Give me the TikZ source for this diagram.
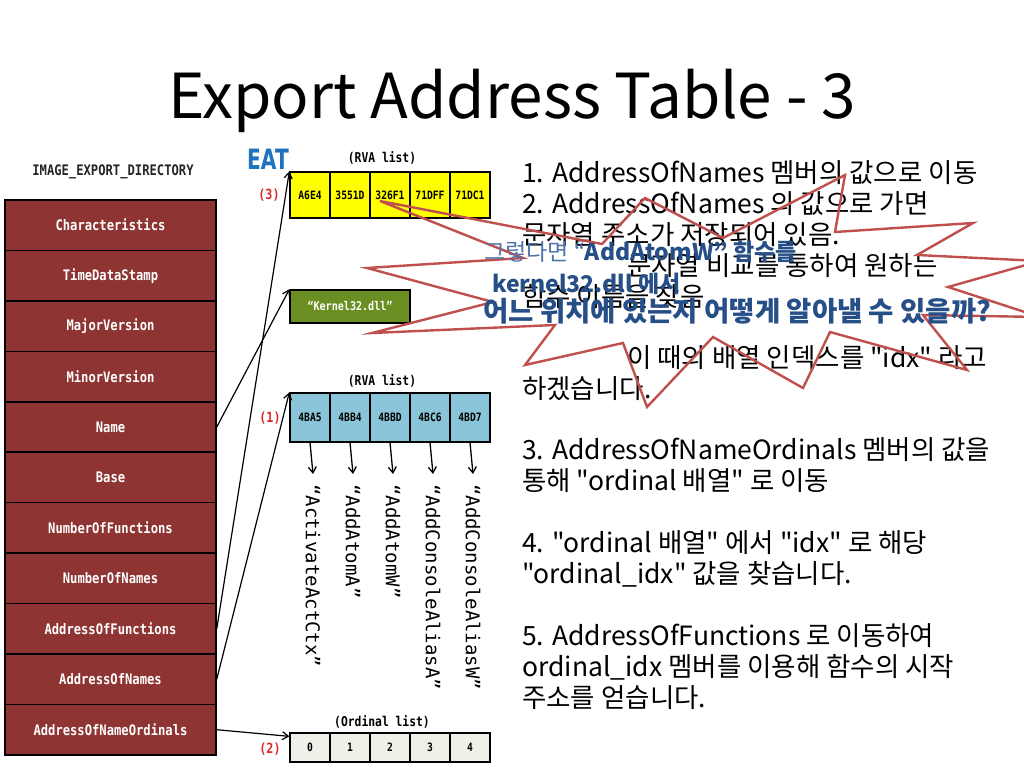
\documentclass[tikz,border=0pt]{standalone}
\usepackage{fontspec}
\usepackage{graphicx}
\setmainfont{Noto Sans CJK KR}[Ligatures=TeXOff]
\setmonofont{DejaVu Sans Mono}
\newfontfamily\eatfont{DejaVu Sans}
\usetikzlibrary{arrows.meta}
\definecolor{dirred}{RGB}{142,53,51}
\definecolor{ybox}{RGB}{255,255,0}
\definecolor{gbox}{RGB}{107,142,35}
\definecolor{bbox}{RGB}{137,196,216}
\definecolor{obox}{RGB}{240,240,232}
\definecolor{eatblue}{RGB}{30,115,190}
\definecolor{redlab}{RGB}{220,40,40}
\definecolor{starred}{RGB}{192,80,77}
\definecolor{stxt}{RGB}{38,78,135}
\definecolor{stxtl}{RGB}{80,115,172}
\newcommand\cnd[1]{\scalebox{0.84}[1]{#1}}
\tikzset{
  rowbox/.style={draw=black, line width=1.5pt, fill=dirred, minimum width=211pt, minimum height=50.45pt, inner sep=0pt, text=white, font=\ttfamily\bfseries\fontsize{14.5}{16}\selectfont},
  cellbox/.style={draw=black, line width=1.3pt, minimum width=40pt, inner sep=0pt, font=\ttfamily\bfseries\fontsize{11.5}{13}\selectfont},
  listlab/.style={inner sep=0pt, font=\ttfamily\bfseries\fontsize{13.5}{15}\selectfont},
  numlab/.style={inner sep=0pt, text=redlab, font=\ttfamily\bfseries\fontsize{14}{16}\selectfont},
  link/.style={draw=black, line width=1.2pt, -{Straight Barb[length=6pt,width=8pt]}},
  vtext/.style={rotate=-90, anchor=west, inner sep=0pt, font=\ttfamily\fontsize{19}{21}\selectfont},
  bodytxt/.style={anchor=base west, inner sep=0pt, font=\fontsize{26.5}{30}\selectfont},
  startxt/.style={anchor=base west, inner sep=0pt, text=stxt, font=\bfseries\fontsize{27.5}{30}\selectfont},
  startxts/.style={startxt, font=\bfseries\fontsize{23}{26}\selectfont},
}
\begin{document}
\begin{tikzpicture}[x=1pt,y=-1pt]
\useasboundingbox (0,0) rectangle (1024,768);
\fill[white] (0,0) rectangle (1024,768);

% title
\node[anchor=base, inner sep=0pt, font=\fontsize{62}{70}\selectfont] (title) at (512,118) {Export Address Table - 3};

% directory
\node[inner sep=0pt, text=black!85, font=\ttfamily\bfseries\fontsize{14.5}{16}\selectfont] (dirlab) at (113,172) {\cnd{IMAGE\_EXPORT\_DIRECTORY}};
\foreach \t [count=\i from 0] in {Characteristics,TimeDataStamp,MajorVersion,MinorVersion,Name,Base,NumberOfFunctions,NumberOfNames,AddressOfFunctions,AddressOfNames,AddressOfNameOrdinals}
  \node[rowbox] (r\i) at (110.5,{225.2+50.45*\i}) {\cnd{\t}};

% EAT
\node[inner sep=0pt, text=eatblue, xscale=0.72, font=\eatfont\bfseries\fontsize{28}{30}\selectfont] (eat) at (268,159) {EAT};

% yellow RVA list
\node[listlab] (rvaA) at (382,158) {\cnd{(RVA list)}};
\node[numlab] (n3) at (269,195) {\cnd{(3)}};
\foreach \t [count=\i] in {A6E4,3551D,326F1,71DFF,71DC1}
  \node[cellbox, fill=ybox, minimum height=46pt] (y\i) at ({270+40*\i},195) {\cnd{\t}};

% green
\node[draw=black, line width=1.3pt, fill=gbox, minimum width=120pt, minimum height=33pt, inner sep=0pt, text=white, font=\ttfamily\bfseries\fontsize{12}{14}\selectfont] (k32) at (350,306.5) {\cnd{“Kernel32.dll”}};

% blue RVA list
\node[listlab] (rvaB) at (382,381) {\cnd{(RVA list)}};
\node[numlab] (n1) at (270,418) {\cnd{(1)}};
\foreach \t [count=\i] in {4BA5,4BB4,4BBD,4BC6,4BD7}
  \node[cellbox, fill=bbox, minimum height=49pt] (b\i) at ({270+40*\i},417.5) {\cnd{\t}};

% vertical names
\foreach \t [count=\i] in {“ActivateActCtx”,“AddAtomA”,“AddAtomW”,“AddConsoleAliasA”,“AddConsoleAliasW”}
{
  \node[vtext] (v\i) at ({273+40*\i},484) {\t};
  \draw[link, line width=1.3pt] (b\i.south) -- ([yshift=10pt]v\i.west);
}

% ordinal list
\node[listlab] (ordl) at (382,722) {\cnd{(Ordinal list)}};
\node[numlab] (n2) at (270,749) {\cnd{(2)}};
\foreach \t [count=\i] in {0,1,2,3,4}
  \node[cellbox, fill=obox, minimum height=29pt] (o\i) at ({270+40*\i},747.5) {\cnd{\t}};

% links
\draw[link] (r4.east) -- (k32.north west);
\draw[link] (r8.east) -- (y1.north west);
\draw[link] (r9.east) -- (b1.north west);
\draw[link] (r10.east) -- ([yshift=-4pt]o1.north west);

% body text
\node[bodytxt] (t1) at (522,182) {1. AddressOfNames 멤버의 값으로 이동};
\node[bodytxt] (t2) at (522,213) {2. AddressOfNames 의 값으로 가면};
\node[bodytxt] (t3) at (522,244) {문자열 주소가 저장되어 있음.};
\node[bodytxt] (t4) at (627,275) {문자열 비교를 통하여 원하는};
\node[bodytxt] (t5) at (522,306) {함수 이름을 찾음};
\node[bodytxt] (t6) at (627,367) {이 때의 배열 인덱스를 "idx" 라고};
\node[bodytxt] (t7) at (522,398) {하겠습니다.};
\node[bodytxt] (t8) at (522,459) {3. AddressOfNameOrdinals 멤버의 값을};
\node[bodytxt] (t9) at (522,490) {통해 "ordinal 배열" 로 이동};
\node[bodytxt] (t10) at (522,552) {4. "ordinal 배열" 에서 "idx" 로 해당};
\node[bodytxt] (t11) at (522,583) {"ordinal\_idx" 값을 찾습니다.};
\node[bodytxt] (t12) at (522,645) {5. AddressOfFunctions 로 이동하여};
\node[bodytxt] (t13) at (522,676) {ordinal\_idx 멤버를 이용해 함수의 시작};
\node[bodytxt] (t14) at (522,707) {주소를 얻습니다.};

% star callout
\begin{scope}
\clip (0,0) rectangle (1024,768);
\draw[starred, line width=2.4pt, line join=miter]
  (380,201) -- (602,244) -- (645,198) -- (723,238) -- (845,175) -- (835,232)
  -- (973,223) -- (917,255) -- (1040,261) -- (948,287) -- (1040,317) -- (923,315)
  -- (967,370) -- (830,332) -- (803,388) -- (713,337) -- (647,407) -- (623,343)
  -- (525,365) -- (555,325) -- (372,333) -- (493,302) -- (367,268) -- (523,258) -- cycle;
\end{scope}
\node[startxts] (s1) at (484,260) {{\mdseries\color{stxtl}그렇다면 “}AddAtomW” 함수를};
\node[startxts] (s2) at (492,292) {kernel32.dll 에서};
\node[startxt] (s3) at (483,321) {어느 위치에 있는지 어떻게 알아낼 수 있을까?};
\end{tikzpicture}
\end{document}
